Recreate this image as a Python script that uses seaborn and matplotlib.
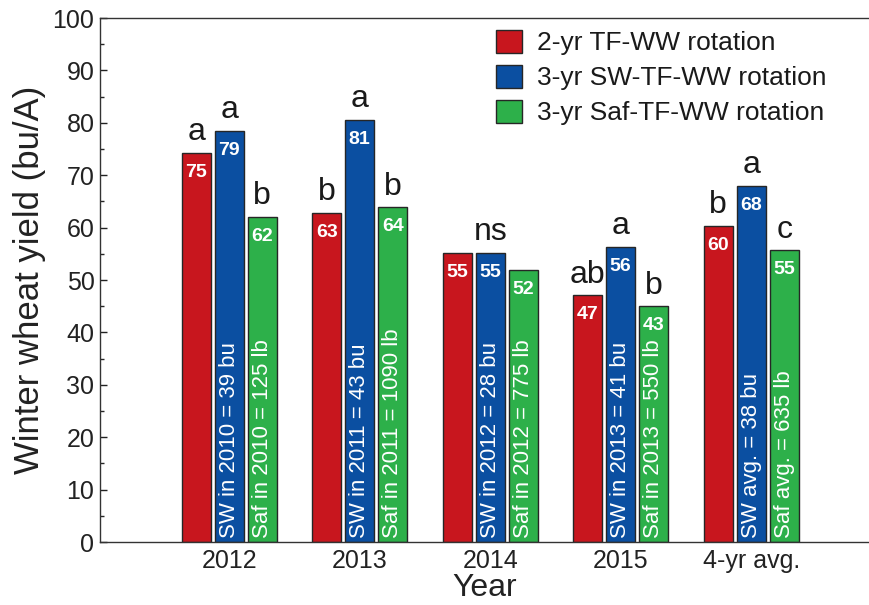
import numpy as np
import pandas as pd
import seaborn as sns
import matplotlib
matplotlib.use("Agg")
import matplotlib.pyplot as plt
import matplotlib.patches as mpatches
from matplotlib.ticker import MultipleLocator

years = ['2012', '2013', '2014', '2015', '4-yr avg.']
rotations = ['2-yr TF-WW rotation', '3-yr SW-TF-WW rotation', '3-yr Saf-TF-WW rotation']

tf_ww = [74.3, 62.8, 55.2, 47.1, 60.3]
sw_tf_ww = [78.5, 80.6, 55.2, 56.3, 68.0]
saf_tf_ww = [62.1, 63.9, 51.9, 45.0, 55.7]

tf_ww_text = ['75', '63', '55', '47', '60']
sw_tf_ww_text = ['79', '81', '55', '56', '68']
saf_tf_ww_text = ['62', '64', '52', '43', '55']

tf_ww_letters = ['a', 'b', '', 'ab', 'b']
sw_tf_ww_letters = ['a', 'a', 'ns', 'a', 'a']
saf_tf_ww_letters = ['b', 'b', '', 'b', 'c']

sw_notes = ['SW in 2010 = 39 bu', 'SW in 2011 = 43 bu', 'SW in 2012 = 28 bu',
            'SW in 2013 = 41 bu', 'SW avg. = 38 bu']
saf_notes = ['Saf in 2010 = 125 lb', 'Saf in 2011 = 1090 lb', 'Saf in 2012 = 775 lb',
             'Saf in 2013 = 550 lb', 'Saf avg. = 635 lb']

colors = ['#C8161E', '#0B4FA1', '#2DB04A']

df = pd.DataFrame({
    'Year': years * 3,
    'Rotation': [rotations[0]] * 5 + [rotations[1]] * 5 + [rotations[2]] * 5,
    'Yield': tf_ww + sw_tf_ww + saf_tf_ww,
})

sns.set_style('ticks')
plt.rcParams['font.family'] = ['Liberation Sans', 'DejaVu Sans']

fig = plt.figure(figsize=(8.7, 6.05), dpi=100)
ax = fig.add_axes([100 / 870, (605 - 542) / 605, 770 / 870, (542 - 18) / 605])

sns.barplot(data=df, x='Year', y='Yield', hue='Rotation', palette=colors,
            saturation=1, width=0.76, gap=0.12, edgecolor='#262626', linewidth=1.0,
            errorbar=None, legend=False, ax=ax)

ax.set_xlim(-0.99, 4.91)
ax.set_ylim(0, 100)
ax.yaxis.set_major_locator(MultipleLocator(10))
ax.yaxis.set_minor_locator(MultipleLocator(5))
ax.tick_params(axis='y', which='major', direction='in', length=5, width=1.0,
               labelsize=18, pad=4, colors='#222222')
ax.tick_params(axis='y', which='minor', direction='in', length=3, width=1.0)
ax.tick_params(axis='x', length=0, labelsize=18, pad=5, colors='#222222')

for side in ['left', 'bottom', 'top']:
    ax.spines[side].set_visible(True)
    ax.spines[side].set_linewidth(1.0)
    ax.spines[side].set_color('#333333')
ax.spines['right'].set_visible(False)

ax.set_ylabel('Winter wheat yield (bu/A)', fontsize=25, color='#222222', labelpad=5)
ax.set_xlabel('Year', fontsize=23, color='#222222', labelpad=0)

value_texts = [tf_ww_text, sw_tf_ww_text, saf_tf_ww_text]
letters = [tf_ww_letters, sw_tf_ww_letters, saf_tf_ww_letters]
notes = [None, sw_notes, saf_notes]

for k, cont in enumerate(ax.containers):
    for i, bar in enumerate(cont.patches):
        xc = bar.get_x() + bar.get_width() / 2
        h = bar.get_height()
        ax.annotate(value_texts[k][i], (xc, h), xytext=(0, -8), textcoords='offset points',
                    ha='center', va='top', color='white', fontsize=14, fontweight='bold')
        if letters[k][i]:
            ax.annotate(letters[k][i], (xc, h), xytext=(0, 4), textcoords='offset points',
                        ha='center', va='bottom', color='#1a1a1a', fontsize=23)
        if notes[k] is not None:
            ax.annotate(notes[k][i], (xc, 0), xytext=(0, 3), textcoords='offset points',
                        ha='center', va='bottom', rotation=90, color='white', fontsize=16)

handles = [mpatches.Patch(facecolor=c, edgecolor='#262626', linewidth=1.0, label=r)
           for c, r in zip(colors, rotations)]
fig.legend(handles=handles, loc='upper left', bbox_to_anchor=(496 / 870, (605 - 30) / 605),
           frameon=False, fontsize=19, handlelength=1.0, handleheight=0.95,
           handletextpad=0.55, labelspacing=0.36, borderpad=0, borderaxespad=0,
           labelcolor='#1a1a1a')

fig.savefig('out.png', dpi=100)
